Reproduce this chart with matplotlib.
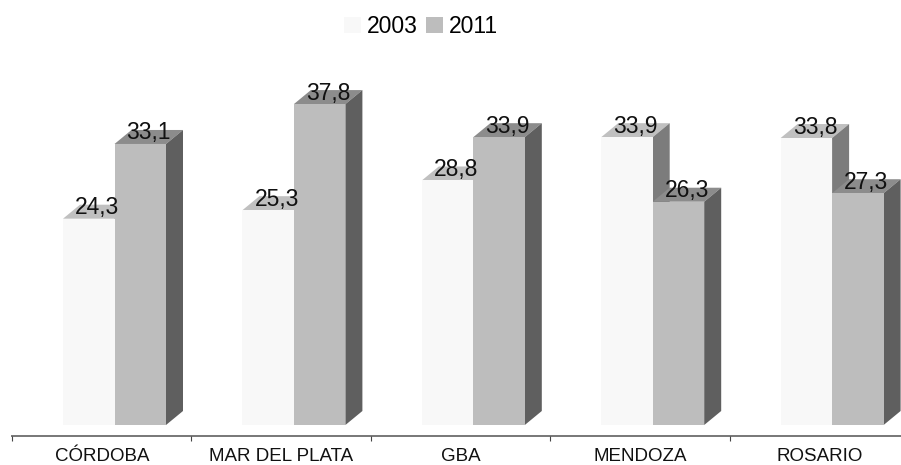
import numpy as np
import matplotlib
matplotlib.use("Agg")
import matplotlib.pyplot as plt
from matplotlib.patches import Polygon

plt.rcParams['font.family'] = ['Liberation Sans', 'DejaVu Sans']

categories = ['CÓRDOBA', 'MAR DEL PLATA', 'GBA', 'MENDOZA', 'ROSARIO']
values_2003 = [24.3, 25.3, 28.8, 33.9, 33.8]
values_2011 = [33.1, 37.8, 33.9, 26.3, 27.3]
labels_2003 = ['24,3', '25,3', '28,8', '33,9', '33,8']
labels_2011 = ['33,1', '37,8', '33,9', '26,3', '27,3']

W, H = 901, 465
px_x = 179.4      # pixels per category
px_y = 8.49       # pixels per value unit
x0 = 114.5        # pixel of first category centre
base = 425        # pixel of value zero

fig = plt.figure(figsize=(W / 100, H / 100), dpi=100)
ax = fig.add_axes([0, 0, 1, 1])
ax.set_xlim(-x0 / px_x, (W - x0) / px_x)
ax.set_ylim((base - H) / px_y, base / px_y)
ax.axis('off')

bar_w = 51.5 / px_x
dx = 17 / px_x
dy = 14 / px_y


def bars_3d(xs, vals, front, top, side, label):
    ax.bar(xs, vals, width=bar_w, align='edge', color=front, linewidth=0, label=label, zorder=3)
    for x, v in zip(xs, vals):
        r = x + bar_w
        ax.add_patch(Polygon([(x, v), (r, v), (r + dx, v + dy), (x + dx, v + dy)],
                             closed=True, fc=top, ec='none', zorder=2))
        ax.add_patch(Polygon([(r, 0), (r + dx, dy), (r + dx, v + dy), (r, v)],
                             closed=True, fc=side, ec='none', zorder=2))


pos = np.arange(len(categories))
bars_3d(pos - bar_w, values_2003, '#f8f8f8', '#c0c0c0', '#7c7c7c', '2003')
bars_3d(pos, values_2011, '#bdbdbd', '#8c8c8c', '#5f5f5f', '2011')

lift = 4.5 / px_y
for x, v, s in zip(pos - bar_w, values_2003, labels_2003):
    ax.text(x + bar_w / 2 + dx / 2, v + lift, s, ha='center', va='baseline', fontsize=16.5, color='#111111', zorder=5)
for x, v, s in zip(pos, values_2011, labels_2011):
    ax.text(x + bar_w / 2 + dx / 2, v + lift, s, ha='center', va='baseline', fontsize=16.5, color='#111111', zorder=5)

# category axis below the bars
axis_y = (base - 436) / px_y
tick_y = (base - 441) / px_y
edges = np.arange(len(categories) + 1) - 0.571
ax.plot([edges[0], edges[-1]], [axis_y, axis_y], color='#777777', lw=1.4, zorder=1)
ax.vlines(edges, tick_y, axis_y, color='#444444', lw=0.8, zorder=1)
for x, c in zip(pos, categories):
    ax.text(x - 0.071, (base - 460.5) / px_y, c, ha='center', va='baseline', fontsize=13.5, color='#111111')

leg = ax.legend(loc='upper center', bbox_to_anchor=(0.4675, 0.998), ncol=2, frameon=False,
                fontsize=16.5, handlelength=0.75, handleheight=0.7, handletextpad=0.25,
                columnspacing=0.35, borderaxespad=0.2)

fig.savefig('out.png', dpi=100)
